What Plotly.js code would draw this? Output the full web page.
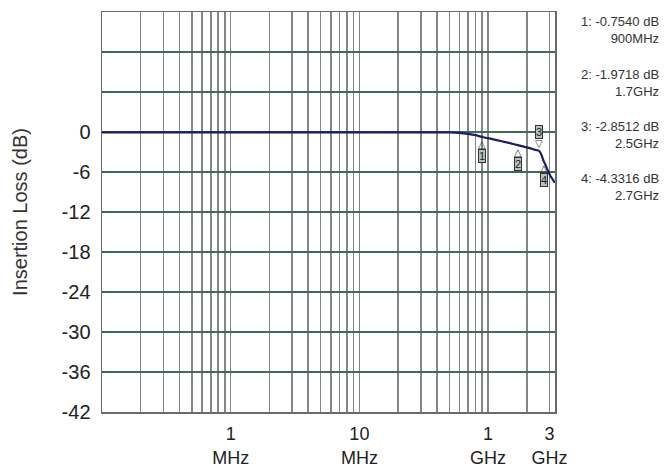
<!DOCTYPE html>
<html>
<head>
<meta charset="utf-8">
<script src="https://cdn.plot.ly/plotly-3.0.1.min.js"></script>
<style>html,body{margin:0;padding:0;background:#fff;}#chart{width:666px;height:470px;}</style>
</head>
<body>
<div id="chart"></div>
<script>
// Curve data (x in MHz as drawn on the picture's axis, y in dB)
var freqMHz = [1, 3, 10, 30, 100, 200, 300, 400, 500, 600, 700, 800, 900, 1100, 1300, 1500, 1700, 1900, 2100, 2300, 2500, 2600, 2700, 2800, 2900, 3000, 3150, 3300];
var lossDb  = [-0.05, -0.05, -0.05, -0.05, -0.05, -0.05, -0.05, -0.05, -0.06, -0.12, -0.27, -0.47, -0.754, -1.1, -1.42, -1.7, -1.9718, -2.2, -2.42, -2.65, -2.8512, -3.45, -4.3316, -5.0, -5.7, -6.35, -7.0, -7.6];

// Markers
var markerNum  = ["1", "2", "3", "4"];
var markerFreq = [900, 1700, 2500, 2700];
var markerDb   = [-0.754, -1.9718, -2.8512, -4.3316];
var markerText = ["1: -0.7540 dB<br>900MHz", "2: -1.9718 dB<br>1.7GHz", "3: -2.8512 dB<br>2.5GHz", "4: -4.3316 dB<br>2.7GHz"];

// Axis ticks
var xGridVals = [1,2,3,4,5,6,7,8,9,10,20,30,40,50,60,70,80,90,100,200,300,400,500,600,700,800,900,1000,2000,3000];
var xLabelVals = [10, 100, 1000, 3000];
var xLabelText = ["1<br>MHz", "10<br>MHz", "1<br>GHz", "3<br>GHz"];
var yTickVals = [-42, -36, -30, -24, -18, -12, -6, 0, 6, 12];
var yTickText = ["-42", "-36", "-30", "-24", "-18", "-12", "-6", "0", "", ""];

var xTickText = xGridVals.map(function(v){
  var i = xLabelVals.indexOf(v);
  return i >= 0 ? xLabelText[i] : "";
});

var traces = [{
  x: freqMHz, y: lossDb, type: "scatter", mode: "lines",
  line: {color: "#1c1c6a", width: 2.2, shape: "spline", smoothing: 0.8},
  hoverinfo: "skip"
}];

var annotations = [];
var textTops = [1.0, 0.8675, 0.7375, 0.6075];
for (var i = 0; i < markerNum.length; i++) {
  var down = (markerNum[i] === "3");
  annotations.push({
    x: Math.log10(markerFreq[i]), y: markerDb[i], xref: "x", yref: "y",
    text: down ? "▽" : "△", showarrow: false,
    xanchor: "center", yanchor: down ? "bottom" : "top",
    font: {family: "DejaVu Sans", size: 10, color: "#333"}
  });
  annotations.push({
    x: Math.log10(markerFreq[i]), y: markerDb[i], xref: "x", yref: "y",
    text: markerNum[i], showarrow: false,
    xanchor: "center", yanchor: down ? "bottom" : "top",
    yshift: down ? 12 : -12,
    bgcolor: "#b8c0c0", bordercolor: "#333", borderwidth: 1, borderpad: 0,
    font: {family: "Liberation Sans, Arial", size: 11, color: "#222"}
  });
  annotations.push({
    x: 1.234, y: textTops[i], xref: "paper", yref: "paper",
    text: markerText[i], showarrow: false, xanchor: "right", yanchor: "top", align: "right",
    font: {family: "Liberation Sans, Arial", size: 13, color: "#333"}
  });
}

var layout = {
  width: 666, height: 470,
  margin: {l: 102, r: 111, t: 12, b: 58},
  paper_bgcolor: "#fff", plot_bgcolor: "#fff",
  showlegend: false,
  font: {family: "Liberation Sans, Arial, sans-serif", color: "#222"},
  xaxis: {
    type: "log", range: [0, 3.52],
    tickmode: "array", tickvals: xGridVals, ticktext: xTickText,
    showgrid: true, gridcolor: "#858585", gridwidth: 1.5,
    showline: true, linecolor: "#6a6a6a", linewidth: 1.5, mirror: true,
    ticks: "", zeroline: false, ticklabelstandoff: 5,
    tickfont: {size: 18, color: "#222"}
  },
  yaxis: {
    range: [-42, 18],
    tickmode: "array", tickvals: yTickVals, ticktext: yTickText,
    showgrid: true, gridcolor: "#3e6a58", gridwidth: 1.2,
    showline: true, linecolor: "#6a6a6a", linewidth: 1.5, mirror: true,
    ticks: "", zeroline: false, ticklabelstandoff: 6,
    tickfont: {size: 20, color: "#222"},
    title: {text: "Insertion Loss (dB)", font: {size: 20, color: "#333"}, standoff: 28}
  },
  annotations: annotations
};

Plotly.newPlot("chart", traces, layout, {staticPlot: true, displayModeBar: false});
</script>
</body>
</html>
